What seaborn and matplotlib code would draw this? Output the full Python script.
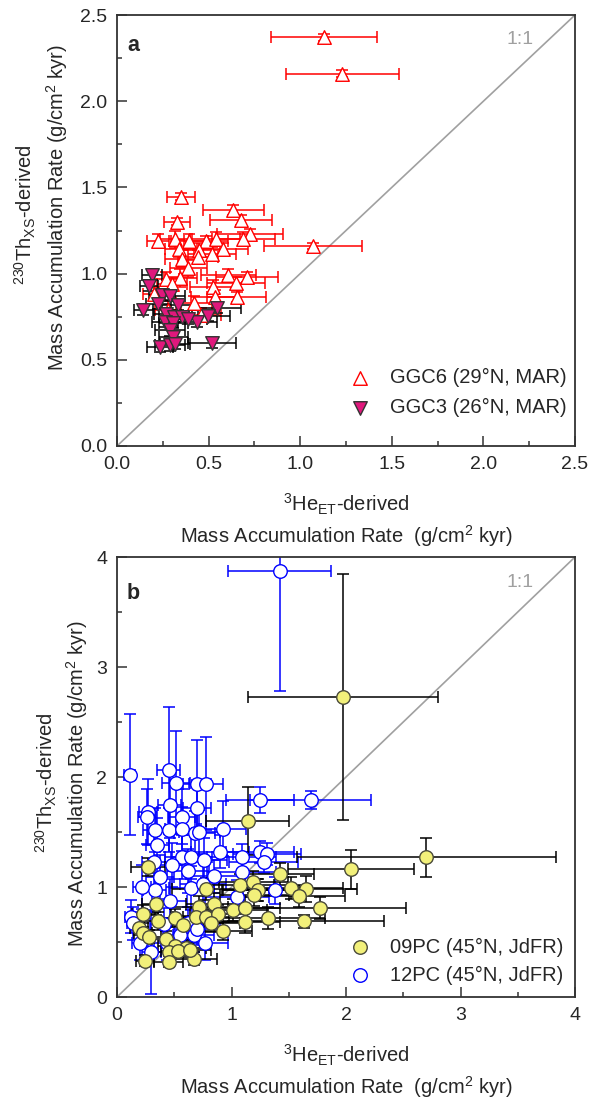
import matplotlib
matplotlib.use("Agg")
import matplotlib.pyplot as plt
import pandas as pd
import seaborn as sns

# panel a: GGC6 (29N, MAR)
ggc6_x = [1.13, 1.23, 0.35, 0.635, 0.675, 0.326, 0.726, 0.226, 0.317, 0.395, 0.486, 0.54,
          0.34, 0.45, 0.577, 0.69, 0.353, 0.444, 0.517, 0.39, 0.27, 0.344, 0.607, 0.708,
          0.65, 0.526, 0.204, 0.653, 0.535, 0.30, 1.07, 0.42, 0.46, 0.28]
ggc6_y = [2.37, 2.16, 1.445, 1.37, 1.31, 1.30, 1.23, 1.19, 1.20, 1.19, 1.19, 1.20,
          1.145, 1.135, 1.145, 1.20, 1.087, 1.097, 1.116, 1.03, 0.97, 0.975, 0.994, 0.98,
          0.948, 0.92, 0.884, 0.864, 0.864, 0.94, 1.16, 0.83, 0.76, 0.79]
ggc6_xerr = [0.29, 0.31, 0.075, 0.165, 0.17, 0.07, 0.18, 0.06, 0.08, 0.10, 0.12, 0.13,
             0.08, 0.11, 0.14, 0.17, 0.09, 0.11, 0.13, 0.10, 0.07, 0.09, 0.15, 0.17,
             0.16, 0.13, 0.06, 0.16, 0.13, 0.08, 0.27, 0.10, 0.11, 0.07]
ggc6_yerr = [0.02, 0.02, 0.02, 0.03, 0.03, 0.02, 0.03, 0.04, 0.05, 0.04, 0.03, 0.04,
             0.05, 0.04, 0.03, 0.04, 0.05, 0.04, 0.04, 0.05, 0.04, 0.05, 0.03, 0.03,
             0.03, 0.04, 0.04, 0.03, 0.04, 0.04, 0.02, 0.04, 0.04, 0.05]

# panel a: GGC3 (26N, MAR)
ggc3_x = [0.19, 0.176, 0.244, 0.29, 0.144, 0.226, 0.335, 0.27, 0.311, 0.353, 0.544,
          0.499, 0.435, 0.262, 0.39, 0.307, 0.29, 0.307, 0.235, 0.29, 0.317, 0.517]
ggc3_y = [0.994, 0.93, 0.878, 0.87, 0.787, 0.826, 0.816, 0.767, 0.748, 0.748, 0.80,
          0.754, 0.72, 0.72, 0.738, 0.715, 0.67, 0.632, 0.574, 0.583, 0.593, 0.599]
ggc3_xerr = [0.055, 0.05, 0.07, 0.08, 0.05, 0.07, 0.09, 0.07, 0.08, 0.09, 0.135,
             0.12, 0.11, 0.07, 0.10, 0.08, 0.08, 0.08, 0.07, 0.08, 0.08, 0.13]
ggc3_yerr = [0.03] * 22

# panel b: 09PC (45N, JdFR)
pc09_x = [1.97, 2.70, 2.04, 1.14, 1.77, 1.63, 1.32, 1.42, 1.52, 1.65, 1.59, 1.22,
          0.27, 0.78, 1.07, 1.19, 1.23, 1.20, 0.34, 0.72, 0.85, 1.01, 1.12, 0.23,
          0.36, 0.51, 0.69, 0.78, 0.885, 0.58, 0.82, 1.12, 0.93, 0.19, 0.23, 0.28,
          0.43, 0.51, 0.60, 0.45, 0.53, 0.67, 0.45, 0.245, 0.64]
pc09_y = [2.73, 1.27, 1.16, 1.60, 0.81, 0.69, 0.72, 1.12, 0.99, 0.98, 0.92, 0.97,
          1.18, 0.98, 1.02, 1.05, 0.97, 0.93, 0.845, 0.815, 0.845, 0.79, 0.805, 0.755,
          0.69, 0.72, 0.73, 0.73, 0.755, 0.655, 0.67, 0.685, 0.60, 0.625, 0.58, 0.55,
          0.53, 0.46, 0.45, 0.41, 0.42, 0.35, 0.32, 0.33, 0.43]
pc09_xerr = [0.83, 1.13, 0.55, 0.36, 0.75, 0.70, 0.50, 0.30, 0.45, 0.45, 0.40, 0.30,
             0.15, 0.30, 0.30, 0.30, 0.30, 0.30, 0.12, 0.25, 0.25, 0.30, 0.30, 0.10,
             0.12, 0.15, 0.20, 0.20, 0.25, 0.18, 0.25, 0.30, 0.25, 0.08, 0.08, 0.10,
             0.12, 0.15, 0.18, 0.13, 0.15, 0.20, 0.13, 0.08, 0.18]
pc09_yerr = [1.12, 0.18, 0.18, 0.31, 0.10, 0.06, 0.10, 0.10, 0.10, 0.12, 0.10, 0.10,
             0.08, 0.10, 0.10, 0.10, 0.10, 0.10, 0.10, 0.10, 0.10, 0.10, 0.10, 0.08,
             0.08, 0.08, 0.08, 0.08, 0.08, 0.08, 0.08, 0.10, 0.08, 0.06, 0.06, 0.06,
             0.07, 0.07, 0.07, 0.06, 0.06, 0.06, 0.05, 0.05, 0.07]

# panel b: 12PC (45N, JdFR)
pc12_x = [1.42, 0.11, 0.45, 0.515, 0.70, 0.78, 0.46, 0.27, 0.26, 0.70, 0.565, 0.93,
          1.25, 1.69, 0.33, 0.45, 0.565, 0.68, 0.72, 0.90, 1.09, 1.25, 1.31, 1.28,
          0.565, 0.65, 0.76, 0.32, 0.48, 0.62, 1.09, 0.375, 0.33, 0.65, 0.75, 1.05,
          1.38, 0.46, 0.12, 0.14, 0.20, 0.30, 0.44, 0.55, 0.67, 0.77, 0.41, 0.62,
          0.70, 0.35, 0.22, 0.85]
pc12_y = [3.87, 2.02, 2.06, 1.95, 1.94, 1.94, 1.75, 1.68, 1.64, 1.72, 1.64, 1.53,
          1.79, 1.79, 1.52, 1.52, 1.53, 1.49, 1.50, 1.32, 1.27, 1.32, 1.30, 1.23,
          1.27, 1.27, 1.245, 1.23, 1.20, 1.15, 1.14, 1.09, 0.97, 0.99, 1.03, 0.91,
          0.97, 0.87, 0.73, 0.67, 0.49, 0.41, 0.49, 0.56, 0.56, 0.49, 0.66, 0.67,
          0.62, 1.38, 1.00, 1.10]
pc12_xerr = [0.45, 0.05, 0.10, 0.12, 0.12, 0.15, 0.10, 0.08, 0.08, 0.12, 0.12, 0.20,
             0.30, 0.53, 0.10, 0.12, 0.15, 0.18, 0.18, 0.25, 0.30, 0.30, 0.30, 0.30,
             0.15, 0.18, 0.20, 0.10, 0.15, 0.18, 0.30, 0.12, 0.10, 0.20, 0.20, 0.28,
             0.28, 0.15, 0.05, 0.05, 0.07, 0.08, 0.12, 0.15, 0.18, 0.20, 0.12, 0.18,
             0.20, 0.10, 0.08, 0.22]
pc12_yerr = [1.09, 0.55, 0.58, 0.47, 0.40, 0.42, 0.30, 0.30, 0.25, 0.25, 0.25, 0.25,
             0.12, 0.08, 0.20, 0.20, 0.20, 0.20, 0.20, 0.15, 0.12, 0.10, 0.10, 0.10,
             0.20, 0.20, 0.20, 0.25, 0.20, 0.20, 0.15, 0.20, 0.20, 0.20, 0.20, 0.15,
             0.12, 0.20, 0.15, 0.15, 0.15, 0.38, 0.15, 0.15, 0.15, 0.15, 0.15, 0.15,
             0.15, 0.25, 0.20, 0.15]

sns.set_style("ticks")
plt.rcParams['font.family'] = ['Liberation Sans', 'DejaVu Sans']
plt.rcParams['mathtext.fontset'] = 'custom'
plt.rcParams['mathtext.rm'] = 'Liberation Sans'
plt.rcParams['mathtext.it'] = 'Liberation Sans:italic'

fig = plt.figure(figsize=(5.92, 11.03), dpi=100)
W, H = 592, 1103
ax_a = fig.add_axes([117 / W, 1 - 446 / H, 458 / W, 431 / H])
ax_b = fig.add_axes([117 / W, 1 - 997 / H, 458 / W, 440 / H])

FS = 14.5
GREY = '#333333'


def draw_series(ax, x, y, xerr, yerr, ecolor, marker, face, edge, label, size):
    df = pd.DataFrame({'x': x, 'y': y})
    ax.errorbar(x, y, xerr=xerr, yerr=yerr, fmt='none', ecolor=ecolor,
                elinewidth=1.1, capsize=4, capthick=1.1, zorder=2)
    sns.scatterplot(data=df, x='x', y='y', ax=ax, marker=marker, s=size,
                    facecolor=face, edgecolor=edge, linewidth=1.0, label=label, zorder=3)


def style_axes(ax, lim, major, minor):
    ax.plot([0, lim], [0, lim], color='#a0a0a0', lw=1.2, zorder=1)
    ax.set_xlim(0, lim)
    ax.set_ylim(0, lim)
    ax.set_xticks([i * major for i in range(int(round(lim / major)) + 1)])
    ax.set_yticks([i * major for i in range(int(round(lim / major)) + 1)])
    ax.set_xticks([i * minor for i in range(int(round(lim / minor)) + 1)], minor=True)
    ax.set_yticks([i * minor for i in range(int(round(lim / minor)) + 1)], minor=True)
    ax.tick_params(which='major', direction='in', length=7, width=1.1, color=GREY,
                   labelsize=14, pad=7)
    ax.tick_params(which='minor', direction='in', length=3.5, width=1.1, color=GREY)
    for sp in ax.spines.values():
        sp.set_color(GREY)
        sp.set_linewidth(1.3)
    ax.set_xlabel('')
    ax.set_ylabel('')
    ax.text(0.85, 0.942, '1:1', transform=ax.transAxes, color='#a0a0a0', fontsize=14,
            va='center')


# panel a
draw_series(ax_a, ggc6_x, ggc6_y, ggc6_xerr, ggc6_yerr, 'red', '^', 'white', 'red',
            'GGC6 (29\u00b0N, MAR)', 95)
draw_series(ax_a, ggc3_x, ggc3_y, ggc3_xerr, ggc3_yerr, 'black', 'v', '#e0187c', '#333333',
            'GGC3 (26\u00b0N, MAR)', 95)
style_axes(ax_a, 2.5, 0.5, 0.25)
ax_a.set_xticklabels(['0.0', '0.5', '1.0', '1.5', '2.0', '2.5'])
ax_a.set_yticklabels(['0.0', '0.5', '1.0', '1.5', '2.0', '2.5'])
ax_a.text(0.022, 0.93, 'a', transform=ax_a.transAxes, fontsize=FS + 1, fontweight='bold',
          va='center')
ax_a.legend(loc='lower left', bbox_to_anchor=(0.509, 0.067), frameon=False, fontsize=FS,
            handlelength=1.0, handletextpad=1.0, labelspacing=0.55, borderpad=0,
            borderaxespad=0)

# panel b
draw_series(ax_b, pc12_x, pc12_y, pc12_xerr, pc12_yerr, 'blue', 'o', 'white', 'blue',
            '12PC (45\u00b0N, JdFR)', 95)
draw_series(ax_b, pc09_x, pc09_y, pc09_xerr, pc09_yerr, 'black', 'o', '#f2f07a', '#4a4a3a',
            '09PC (45\u00b0N, JdFR)', 95)
style_axes(ax_b, 4, 1, 0.5)
ax_b.text(0.022, 0.917, 'b', transform=ax_b.transAxes, fontsize=FS + 1, fontweight='bold',
          va='center')
h, l = ax_b.get_legend_handles_labels()
ax_b.legend(h[::-1], l[::-1], loc='lower left', bbox_to_anchor=(0.509, 0.028), frameon=False,
            fontsize=FS, handlelength=1.0, handletextpad=1.0, labelspacing=0.45, borderpad=0,
            borderaxespad=0)

# axis titles, two lines each
ylab1 = r'$^{230}$Th$_{\mathrm{XS}}$-derived'
ylab2 = r'Mass Accumulation Rate (g/cm$^{2}$ kyr)'
xlab1 = r'$^{3}$He$_{\mathrm{ET}}$-derived'
xlab2 = r'Mass Accumulation Rate  (g/cm$^{2}$ kyr)'
for bot_px, (x1, y1), (x2, y2) in [(446, (25, 215), (57, 208)), (997, (46, 783), (77, 784))]:
    fig.text(x1 / W, 1 - y1 / H, ylab1, rotation=90, ha='center', va='center', fontsize=FS)
    fig.text(x2 / W, 1 - y2 / H, ylab2, rotation=90, ha='center', va='center', fontsize=FS)
    fig.text(346 / W, 1 - (bot_px + 58) / H, xlab1, ha='center', va='center', fontsize=FS)
    fig.text(346 / W, 1 - (bot_px + 90) / H, xlab2, ha='center', va='center', fontsize=FS)

fig.savefig('out.png', dpi=100)
